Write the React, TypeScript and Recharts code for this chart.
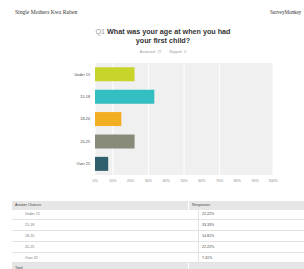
import { BarChart, Bar, XAxis, YAxis, CartesianGrid, Cell } from "recharts";

const categories = ["Under 15", "15-18", "18-20", "20-25", "Over 25"];
const percents = [22.22, 33.33, 14.81, 22.22, 7.41];
const barColors = ["#c8d42a", "#33bec2", "#f4ae22", "#888a7a", "#2f5e6c"];
const xTicks = [0, 10, 20, 30, 40, 50, 60, 70, 80, 90, 100];

const data = categories.map((c, i) => ({ name: c, value: percents[i] }));

const sans = "'Liberation Sans', Arial, sans-serif";

export default function App() {
  return (
    <div
      style={{
        position: "absolute",
        left: 0,
        top: 0,
        width: 304,
        height: 269,
        background: "#fff",
        overflow: "hidden",
        fontFamily: sans,
      }}
    >
      {/* page header */}
      <div
        style={{
          position: "absolute",
          left: 15,
          top: 9,
          fontFamily: "'Liberation Serif', serif",
          fontSize: 5.6,
          color: "#333",
        }}
      >
        Single Mothers Kwa Ruben
      </div>
      <div
        style={{
          position: "absolute",
          left: 270,
          top: 9,
          fontFamily: "'Liberation Serif', serif",
          fontSize: 5.1,
          color: "#333",
          whiteSpace: "nowrap",
        }}
      >
        SurveyMonkey
      </div>

      {/* question title */}
      <div
        style={{
          position: "absolute",
          left: 63,
          top: 27,
          width: 200,
          textAlign: "center",
          fontSize: 7.2,
          lineHeight: "9px",
          fontWeight: 700,
          color: "#333",
        }}
      >
        <span style={{ fontWeight: 400, color: "#999" }}>Q1</span> What was your age at when you had
        <br />
        your first child?
      </div>
      <div
        style={{
          position: "absolute",
          left: 63,
          top: 50,
          width: 200,
          textAlign: "center",
          fontSize: 3.4,
          color: "#999",
          wordSpacing: 1,
        }}
      >
        Answered: 27&nbsp;&nbsp;&nbsp;&nbsp;Skipped: 0
      </div>

      {/* bar chart */}
      <div style={{ position: "absolute", left: 0, top: 0 }}>
        <BarChart
          width={304}
          height={190}
          data={data}
          layout="vertical"
          margin={{ top: 63, right: 31, bottom: 3, left: 0 }}
          barCategoryGap="19%"
        >
          <CartesianGrid horizontal={false} stroke="#ffffff" fill="#f0f0f0" />
          <XAxis
            type="number"
            domain={[0, 100]}
            ticks={xTicks}
            tickFormatter={(v) => `${v}%`}
            axisLine={false}
            tickLine={false}
            height={12}
            tickSize={2}
            tick={{ fontSize: 3.6, fill: "#888", fontFamily: sans }}
          />
          <YAxis
            type="category"
            dataKey="name"
            width={95}
            axisLine={false}
            tickLine={false}
            tickSize={3}
            tick={{ fontSize: 3.8, fill: "#444", fontFamily: sans }}
          />
          <Bar dataKey="value" isAnimationActive={false}>
            {data.map((d, i) => (
              <Cell key={d.name} fill={barColors[i]} />
            ))}
          </Bar>
        </BarChart>
      </div>

      {/* response table */}
      <div style={{ position: "absolute", left: 12, top: 201, width: 292 }}>
        <div style={{ display: "flex", height: 8.5, background: "#e6e6e6", fontSize: 3.6, color: "#444", alignItems: "center" }}>
          <div style={{ width: 173, paddingLeft: 3, borderRight: "1px solid #fff", height: "100%", display: "flex", alignItems: "center" }}>
            Answer Choices
          </div>
          <div style={{ paddingLeft: 3 }}>Responses</div>
        </div>
        {categories.map((c, i) => (
          <div
            key={c}
            style={{
              display: "flex",
              height: 10.8,
              boxSizing: "border-box",
              borderBottom: "1px solid #e2e2e2",
              fontSize: 3.6,
              alignItems: "center",
            }}
          >
            <div style={{ width: 173, paddingLeft: 13, color: "#777", borderRight: "1px solid #e2e2e2", height: "100%", display: "flex", alignItems: "center" }}>
              {c}
            </div>
            <div style={{ paddingLeft: 3, color: "#444" }}>{percents[i].toFixed(2)}%</div>
          </div>
        ))}
        <div style={{ display: "flex", height: 10, background: "#e6e6e6", fontSize: 3.6, color: "#444", alignItems: "center" }}>
          <div style={{ width: 173, paddingLeft: 3, borderRight: "1px solid #fff", height: "100%", display: "flex", alignItems: "center" }}>
            Total
          </div>
        </div>
      </div>
    </div>
  );
}
